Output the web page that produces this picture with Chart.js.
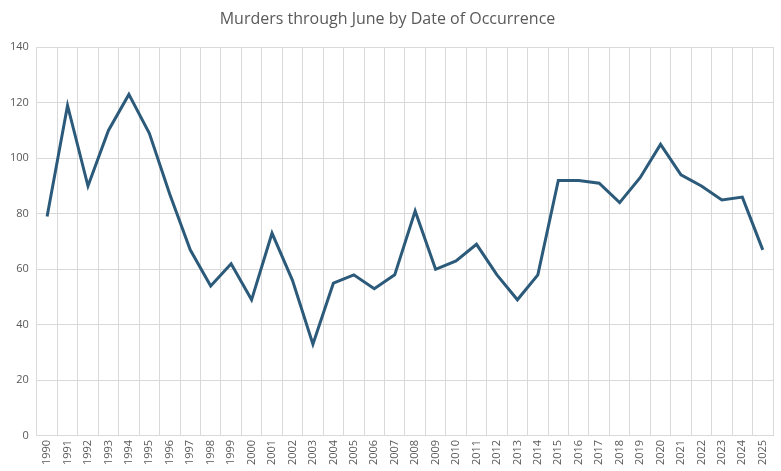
<!DOCTYPE html>
<html><head><meta charset="utf-8">
<script src="https://cdn.jsdelivr.net/npm/chart.js@4"></script>
<style>html,body{margin:0;padding:0;background:#fff}#w{width:781px;height:471px}</style>
</head><body><div id="w"><canvas id="c"></canvas></div>
<script>
const years = ["1990","1991","1992","1993","1994","1995","1996","1997","1998","1999","2000","2001","2002","2003","2004","2005","2006","2007","2008","2009","2010","2011","2012","2013","2014","2015","2016","2017","2018","2019","2020","2021","2022","2023","2024","2025"];
const murders = [79,119,90,110,123,109,87,67,54,62,49,73,56,33,55,58,53,58,81,60,63,69,58,49,58,92,92,91,84,93,105,94,90,85,86,67];
const yTicks = [0,20,40,60,80,100,120,140];
new Chart(document.getElementById('c'), {
  type: 'line',
  data: { labels: years, datasets: [{ data: murders, borderColor: '#2b5a7a', borderWidth: 3, pointRadius: 0, tension: 0, fill: false }] },
  options: {
    responsive: true, maintainAspectRatio: false, animation: false,
    layout: { padding: { left: 2, right: 8, top: 4, bottom: 2 } },
    plugins: {
      legend: { display: false },
      title: { display: true, text: 'Murders through June by Date of Occurrence', color: '#595959', font: { family: 'Open Sans', size: 16, weight: 'normal' }, padding: { top: 6, bottom: 18 } }
    },
    scales: {
      x: { offset: true, grid: { offset: true, color: '#d9d9d9', drawTicks: false }, border: { color: '#d9d9d9' },
           ticks: { color: '#595959', font: { family: 'Open Sans', size: 11 }, minRotation: 90, maxRotation: 90, autoSkip: false, padding: 4 } },
      y: { min: 0, max: 140, grid: { color: '#d9d9d9', drawTicks: false }, border: { display: false },
           afterBuildTicks: a => { a.ticks = yTicks.map(v => ({ value: v })); },
           ticks: { color: '#595959', font: { family: 'Open Sans', size: 11 }, padding: 8 } }
    }
  }
});
</script></body></html>
